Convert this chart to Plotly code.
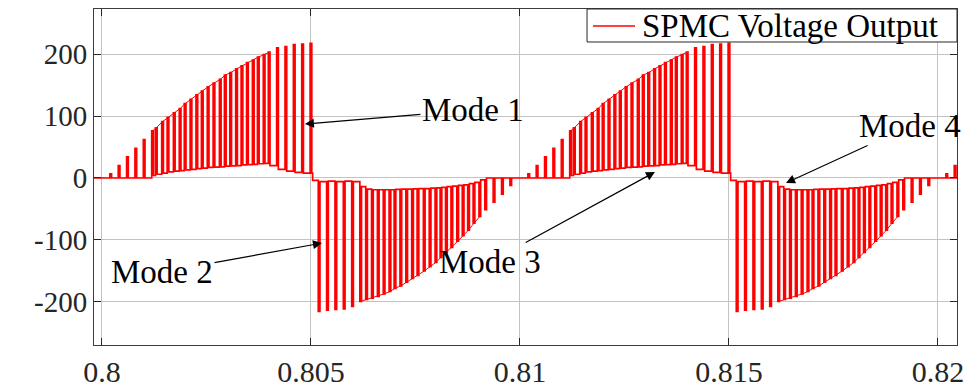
import plotly.graph_objects as go

# ---------------- data (times in ms from the start of each 10 ms cycle) ----------------
# positive half-cycle
pos_early_t = [0.19, 0.39, 0.59, 0.79, 0.99]
pos_early_top = [6.5, 20, 34, 48, 62]
pos_early_base = [0, 0, 0, 0, 0]

pos_mid_t = [1.19, 1.28, 1.43, 1.56, 1.71, 1.85, 1.97, 2.11, 2.25, 2.38, 2.52,
             2.66, 2.81, 2.93, 3.06, 3.20, 3.33, 3.46, 3.60, 3.72, 3.86, 3.98]
pos_mid_top = [76, 81, 91, 98, 105, 112, 120, 127, 134, 140, 147,
               153, 159, 166, 170, 176, 181, 186, 190, 195, 199, 203]
pos_mid_base = [4, 6, 8, 10, 11, 12, 13, 14, 15, 16, 17,
                17.5, 18, 19, 19.5, 20, 21, 21.5, 22, 23, 23.5, 20]

pos_end_t = [4.18, 4.38, 4.58, 4.78, 4.98]
pos_end_top = [210, 212, 215, 216, 217]
pos_end_base = [14, 11, 9, 8, 8]

# polarity change
step_t = [5.04]
step_level = [-4]

# negative half-cycle
neg_early_t = [5.175, 5.375, 5.575, 5.775, 5.975]
neg_early_ext = [-215, -213, -212, -211, -207]
neg_early_base = [-6, -5, -6, -5, -6]

neg_mid_t = [6.17, 6.31, 6.45, 6.59, 6.73, 6.87, 6.99, 7.13, 7.27, 7.41, 7.54,
             7.69, 7.83, 7.97, 8.09, 8.22, 8.35, 8.49, 8.62, 8.75, 8.88, 9.02]
neg_mid_ext = [-199, -196, -194, -191, -187, -183, -178, -174, -168, -162, -157,
               -150, -143, -136, -128, -120, -112, -102, -93, -84, -73, -62]
neg_mid_base = [-14, -18, -19, -19, -19, -19, -18.5, -18, -18, -17.5, -17,
                -17, -16.5, -16, -15, -14, -13, -12, -11, -9, -7, -3]

neg_end_t = [9.16, 9.36, 9.56, 9.76]
neg_end_ext = [-51, -39, -26, -12]
neg_end_base = [0, 0, 0, 0]

cycle_starts = [0.80, 0.81, 0.82]
pulse_width = 0.00004  # s

x_tick_vals = [0.8, 0.805, 0.81, 0.815, 0.82]
x_tick_text = ["0.8", "0.805", "0.81", "0.815", "0.82"]
y_tick_vals = [-200, -100, 0, 100, 200]
y_tick_text = ["-200", "-100", "0", "100", "200"]

series_name = "SPMC Voltage Output"

# ---------------- build waveform ----------------
events = []
for t, e, b in zip(pos_early_t, pos_early_top, pos_early_base):
    events.append((t, e, b))
for t, e, b in zip(pos_mid_t, pos_mid_top, pos_mid_base):
    events.append((t, e, b))
for t, e, b in zip(pos_end_t, pos_end_top, pos_end_base):
    events.append((t, e, b))
for t, lv in zip(step_t, step_level):
    events.append((t, lv, lv))
for t, e, b in zip(neg_early_t, neg_early_ext, neg_early_base):
    events.append((t, e, b))
for t, e, b in zip(neg_mid_t, neg_mid_ext, neg_mid_base):
    events.append((t, e, b))
for t, e, b in zip(neg_end_t, neg_end_ext, neg_end_base):
    events.append((t, e, b))
events.sort(key=lambda ev: ev[0])

xs, ys = [0.7995], [0.0]
level = 0.0
for c0 in cycle_starts:
    for t_ms, ext, base in events:
        t = c0 + t_ms * 1e-3
        xs += [t, t, t + pulse_width, t + pulse_width]
        ys += [level, ext, ext, base]
        level = base
xs.append(c0 + 0.0105)
ys.append(level)

# thin envelope connecting pulse tips in the dense region
ex, ey = [], []
for c0 in cycle_starts:
    for tl, vl in ((pos_mid_t, pos_mid_top), (neg_mid_t, neg_mid_ext)):
        for t_ms, v in zip(tl, vl):
            ex.append(c0 + t_ms * 1e-3 + pulse_width / 2)
            ey.append(v)
        ex.append(None)
        ey.append(None)

RED = "rgb(255,0,0)"
FONT = "Liberation Serif"

fig = go.Figure()
fig.add_trace(go.Scatter(x=xs, y=ys, mode="lines", name=series_name,
                         line=dict(color=RED, width=1.7), showlegend=False))
fig.add_trace(go.Scatter(x=ex, y=ey, mode="lines", showlegend=False,
                         line=dict(color=RED, width=1.0), hoverinfo="skip"))

ann = [
    ("Mode 1", 0.804856, 87, 168, -14),
    ("Mode 2", 0.805263, -105, -160, 29),
    ("Mode 3", 0.81323, 9.7, -165, 90),
    ("Mode 4", 0.816364, -8, 124, -57),
]
for txt, x, y, ax, ay in ann:
    fig.add_annotation(x=x, y=y, ax=ax, ay=ay, text=txt, showarrow=True,
                       arrowhead=2, arrowsize=1.5, arrowwidth=1.2,
                       arrowcolor="black", standoff=0,
                       font=dict(family=FONT, size=33, color="black"))

# legend box (drawn manually to match the compact MATLAB legend)
fig.add_shape(type="rect", xref="paper", yref="paper", x0=0.5713, x1=1.0,
              y0=0.9018, y1=1.0, fillcolor="white",
              line=dict(color="rgb(40,40,40)", width=1), layer="above")
fig.add_shape(type="line", xref="paper", yref="paper", x0=0.5782, x1=0.6269,
              y0=0.9494, y1=0.9494, line=dict(color=RED, width=1.5), layer="above")
fig.add_annotation(xref="paper", yref="paper", x=0.6327, y=0.9494,
                   xanchor="left", yanchor="middle", text=series_name,
                   showarrow=False, font=dict(family=FONT, size=33, color="black"))

axis_common = dict(showgrid=True, gridcolor="rgb(195,195,195)", gridwidth=1,
                   showline=True, linecolor="rgb(60,60,60)", linewidth=1,
                   mirror="ticks", ticks="inside", ticklen=7,
                   tickcolor="rgb(40,40,40)", zeroline=False, automargin=False)

fig.update_layout(
    width=975, height=390,
    margin=dict(l=94, r=18, t=9, b=45),
    paper_bgcolor="white", plot_bgcolor="white",
    xaxis=dict(range=[0.79981, 0.820455], tickvals=x_tick_vals,
               ticktext=x_tick_text,
               tickfont=dict(family=FONT, size=30, color="rgb(38,38,38)"),
               **axis_common),
    yaxis=dict(range=[-269.4, 272.6], tickvals=y_tick_vals,
               ticktext=y_tick_text,
               tickfont=dict(family=FONT, size=29, color="rgb(38,38,38)"),
               **axis_common),
    showlegend=False,
)

fig.write_html("out.html", config={"displayModeBar": False},
               post_script="document.body.style.margin='0';")
